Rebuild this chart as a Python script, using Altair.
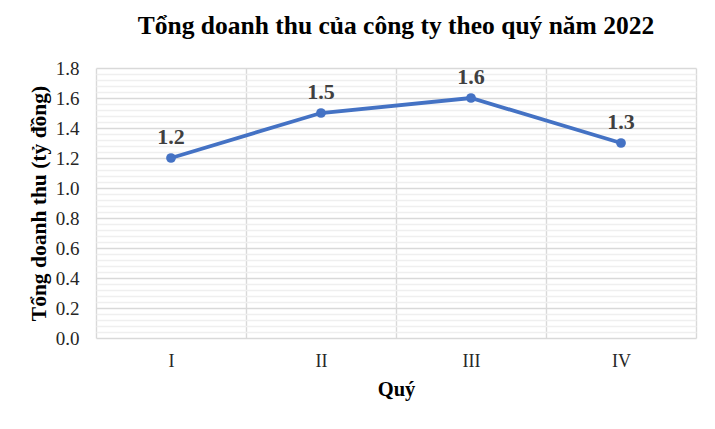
import altair as alt
import pandas as pd

quarters = ["I", "II", "III", "IV"]
revenue = [1.2, 1.5, 1.6, 1.3]
y_ticks = [round(i * 0.04, 2) for i in range(46)]

df = pd.DataFrame({"Quý": quarters, "Doanh thu": revenue})

FONT = "Liberation Serif"
BLUE = "#4472C4"
major = "round(datum.value*100) % 20 == 0"

base = alt.Chart(df).encode(
    x=alt.X("Quý:N", sort=quarters, title="Quý",
            scale=alt.Scale(paddingInner=0, paddingOuter=0),
            axis=alt.Axis(labelAngle=0, tickBand="extent", ticks=False, domain=False,
                          grid=True, gridColor="#d9d9d9", gridWidth=1.4,
                          labelFont=FONT, labelFontSize=18, labelColor="#262626",
                          labelPadding=14, titleFont=FONT, titleFontSize=20.5,
                          titleFontWeight="bold", titleColor="#000000", titlePadding=9)),
    y=alt.Y("Doanh thu:Q", title="Tổng doanh thu (tỷ đồng)",
            scale=alt.Scale(domain=[0, 1.8], nice=False),
            axis=alt.Axis(values=y_ticks, ticks=False, domain=False, grid=True,
                          gridColor={"condition": {"test": major, "value": "#d9d9d9"},
                                     "value": "#efefef"},
                          gridWidth={"condition": {"test": major, "value": 1.4},
                                     "value": 1.6},
                          labelExpr="round(datum.value*100) % 20 == 0 ? format(datum.value, '.1f') : ''",
                          labelFont=FONT, labelFontSize=19, labelColor="#262626",
                          labelPadding=17, titleFont=FONT, titleFontSize=21.5,
                          titleFontWeight="bold", titleColor="#000000", titlePadding=5)),
)

line = base.mark_line(color=BLUE, strokeWidth=3.8)
points = base.mark_point(filled=True, color=BLUE, size=95, opacity=1)
labels = base.mark_text(dy=-21, font=FONT, fontSize=22, fontWeight="bold",
                        color="#404040").encode(text=alt.Text("Doanh thu:Q", format=".1f"))

chart = (line + points + labels).properties(
    width=600, height=270,
    title=alt.Title("Tổng doanh thu của công ty theo quý năm 2022", font=FONT,
                    fontSize=25.5, fontWeight="bold", color="#000000", offset=20),
    autosize=alt.AutoSizeParams(type="none"),
    padding={"left": 88, "top": 60, "right": 11, "bottom": 83},
).configure_view(stroke=None)

chart.save("out.html", embed_options={"renderer": "svg", "actions": False})
